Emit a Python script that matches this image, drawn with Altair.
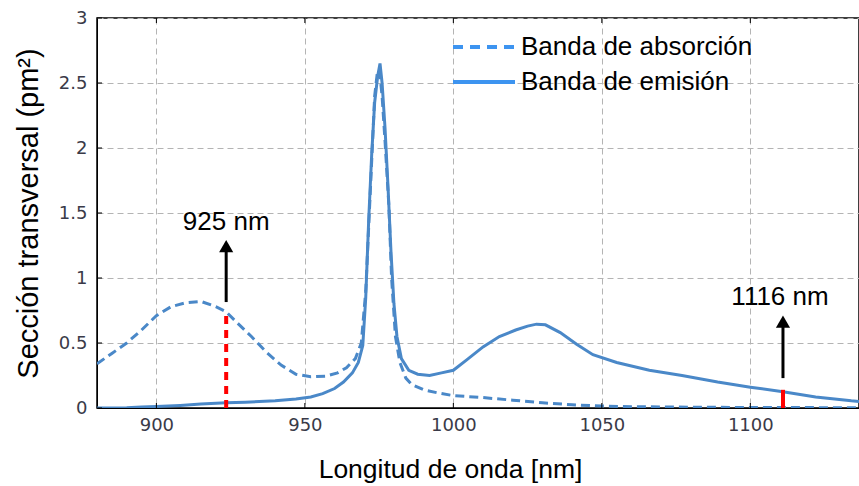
import altair as alt
import pandas as pd

# Absorption band (dashed)
abs_nm = [880, 885, 890, 895, 900, 905, 910, 915, 920, 923.5, 927, 932, 937, 942, 947, 952, 957, 961,
          964, 967, 969, 970.5, 971.5, 972.5, 973.5, 974.5, 975.2, 976, 977, 978.3, 979.2, 980.5, 982,
          984, 986, 990, 995, 1000, 1010, 1020, 1030, 1040, 1050, 1060, 1080, 1100, 1120, 1140]
abs_val = [0.34, 0.42, 0.50, 0.60, 0.71, 0.78, 0.81, 0.82, 0.78, 0.74, 0.66, 0.55, 0.43, 0.33, 0.26, 0.24, 0.245, 0.27,
           0.31, 0.38, 0.50, 0.9, 1.4, 1.9, 2.4, 2.6, 2.58, 2.4, 2.05, 1.55, 1.0, 0.55, 0.35,
           0.23, 0.18, 0.14, 0.115, 0.095, 0.08, 0.06, 0.04, 0.025, 0.015, 0.01, 0.006, 0.004, 0.003, 0.002]

# Emission band (solid)
em_nm = [880, 890, 895, 900, 908, 915, 923.5, 930, 940, 947, 952, 956, 960, 963, 966, 968, 969.5, 970.5,
         971.5, 972.5, 973.5, 974.5, 975.3, 976, 977, 978, 979, 980, 981, 982.5, 985, 988, 992, 996, 1000,
         1004.5, 1010, 1015.5, 1021, 1025, 1028, 1031, 1036, 1041.5, 1047, 1055, 1066, 1077, 1089, 1100,
         1111, 1122, 1134, 1140]
em_val = [0.0, 0.002, 0.008, 0.012, 0.02, 0.03, 0.04, 0.045, 0.055, 0.07, 0.085, 0.11, 0.15, 0.2, 0.27, 0.35, 0.48, 0.85,
          1.45, 1.95, 2.35, 2.55, 2.65, 2.5, 2.15, 1.7, 1.2, 0.8, 0.55, 0.38, 0.29, 0.26, 0.25, 0.27, 0.29,
          0.37, 0.47, 0.55, 0.60, 0.63, 0.645, 0.64, 0.58, 0.49, 0.41, 0.35, 0.29, 0.25, 0.20, 0.16,
          0.125, 0.085, 0.055, 0.045]

x_ticks = [900, 950, 1000, 1050, 1100]
y_ticks = [0, 0.5, 1, 1.5, 2, 2.5, 3]

marker_nm = [923.5, 1111]
marker_top = [0.74, 0.14]
arrow_bottom = [0.815, 0.23]
arrow_head = [1.245, 0.665]
label_nm = [923.5, 1110]
label_y = [1.43, 0.855]
label_text = ["925 nm", "1116 nm"]
legend_labels = ["Banda de absorción", "Banda de emisión"]

CURVE = "#4a88c8"
LEGEND_BLUE = "#3d94f0"
FONT = "Liberation Sans"
TICK_COLOR = "#3a3a48"

xs = alt.Scale(domain=[880, 1136.6], nice=False, zero=False)
ys = alt.Scale(domain=[0, 3], nice=False)

x_axis = alt.Axis(values=x_ticks, format="d", grid=True, gridDash=[6, 4], gridColor="#b4b4b4",
                  tickSize=0, labelPadding=8, labelFont="DejaVu Sans", labelFontSize=18,
                  labelColor=TICK_COLOR, domainColor="black",
                  title="Longitud de onda [nm]", titleFont=FONT, titleFontSize=26.5,
                  titleFontWeight="normal", titleColor="black", titleX=353, titleY=69,
                  titleBaseline="alphabetic", titleAlign="center")
y_axis = alt.Axis(values=y_ticks, labelExpr="toString(datum.value)", grid=True, gridDash=[6, 4],
                  gridColor="#b4b4b4", tickSize=0, labelPadding=10, labelFont="DejaVu Sans",
                  labelFontSize=18, labelColor=TICK_COLOR, domainColor="black",
                  title="Sección transversal (pm²)", titleFont=FONT, titleFontSize=29,
                  titleFontWeight="normal", titleColor="black", titleAngle=270, titleX=-60,
                  titleY=195, titleBaseline="alphabetic", titleAlign="center")


def X(field):
    return alt.X(field, type="quantitative", scale=xs, axis=x_axis)


def Y(field):
    return alt.Y(field, type="quantitative", scale=ys, axis=y_axis)


abs_df = pd.DataFrame({"nm": abs_nm, "v": abs_val})
em_df = pd.DataFrame({"nm": em_nm, "v": em_val})

absorption = alt.Chart(abs_df).mark_line(color=CURVE, strokeWidth=3, strokeDash=[9, 5], clip=True).encode(
    x=X("nm"), y=Y("v"))
emission = alt.Chart(em_df).mark_line(color=CURVE, strokeWidth=3, clip=True).encode(
    x=X("nm"), y=Y("v"))

mk = pd.DataFrame({"nm": marker_nm, "v": [0, 0], "top": marker_top,
                   "ab": arrow_bottom, "ah": arrow_head,
                   "lnm": label_nm, "ly": label_y, "txt": label_text})

red1 = alt.Chart(mk.iloc[[0]]).mark_rule(color="#ff0000", strokeWidth=4, strokeDash=[8, 6]).encode(
    x=X("nm"), y=Y("v"), y2="top:Q")
red2 = alt.Chart(mk.iloc[[1]]).mark_rule(color="#ff0000", strokeWidth=4).encode(
    x=X("nm"), y=Y("v"), y2="top:Q")

shaft = alt.Chart(mk).mark_rule(color="black", strokeWidth=3).encode(
    x=X("nm"), y=Y("ab"), y2="ah:Q")
head = alt.Chart(mk).mark_point(shape="triangle-up", filled=True, color="black", size=200, opacity=1).encode(
    x=X("nm"), y=Y("ah"))
labels = alt.Chart(mk).mark_text(font=FONT, fontSize=26, color="black", align="center", baseline="middle").encode(
    x=X("lnm"), y=Y("ly"), text="txt:N")

xt = pd.DataFrame({"nm": x_ticks})
yt = pd.DataFrame({"v": y_ticks})
xtick_b = alt.Chart(xt).mark_rule(color="black").encode(
    x=X("nm"), y=alt.value(390), y2=alt.value(385))
xtick_t = alt.Chart(xt).mark_rule(color="black").encode(
    x=X("nm"), y=alt.value(0), y2=alt.value(5))
ytick = alt.Chart(yt).mark_rule(color="black").encode(
    y=Y("v"), x=alt.value(0), x2=alt.value(5))

leg1_line = alt.Chart(pd.DataFrame({"label": [legend_labels[0]]})).mark_rule(
    color=LEGEND_BLUE, strokeWidth=4, strokeDash=[10, 7]).encode(
    x=alt.value(356), x2=alt.value(418), y=alt.value(29))
leg2_line = alt.Chart(pd.DataFrame({"label": [legend_labels[1]]})).mark_rule(
    color=LEGEND_BLUE, strokeWidth=4).encode(
    x=alt.value(356), x2=alt.value(418), y=alt.value(64))
leg1_txt = alt.Chart(pd.DataFrame({"label": [legend_labels[0]]})).mark_text(
    font=FONT, fontSize=26, color="black", align="left", baseline="middle").encode(
    x=alt.value(424), y=alt.value(29), text="label:N")
leg2_txt = alt.Chart(pd.DataFrame({"label": [legend_labels[1]]})).mark_text(
    font=FONT, fontSize=26, color="black", align="left", baseline="middle").encode(
    x=alt.value(424), y=alt.value(64), text="label:N")

chart = alt.layer(
    absorption, emission, red1, red2, shaft, head, labels,
    xtick_b, xtick_t, ytick, leg1_line, leg2_line, leg1_txt, leg2_txt
).properties(
    width=762, height=390,
    padding={"left": 97, "top": 18, "right": 0, "bottom": 78},
    autosize=alt.AutoSizeParams(type="none"),
).configure(background="white").configure_view(stroke="black", strokeWidth=1.5)

chart.save("out.html", embed_options={"renderer": "svg", "actions": False})
